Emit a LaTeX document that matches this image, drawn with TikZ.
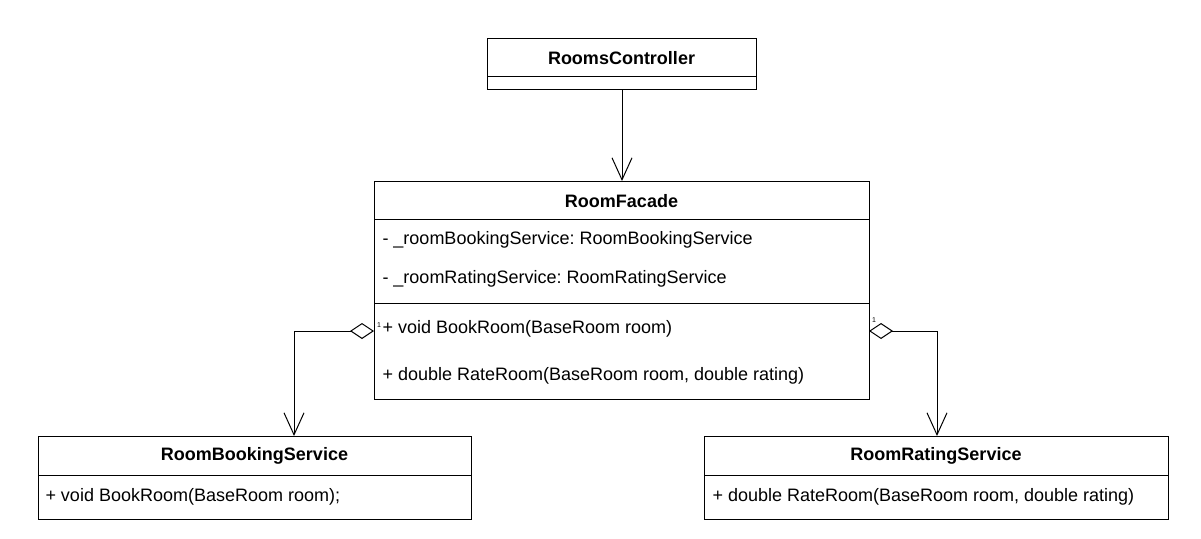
\documentclass[tikz,border=0pt]{standalone}
\usepackage{fontspec}
\setmainfont{Liberation Sans}
\usetikzlibrary{arrows.meta}
\frenchspacing
\begin{document}
\begin{tikzpicture}[x=1pt, y=-1pt, line width=1pt,
   font=\fontsize{18}{21}\selectfont,
   classbox/.style={draw, inner sep=0pt, anchor=north west},
   title/.style={font=\fontsize{18}{21}\selectfont\bfseries, inner sep=0pt},
   member/.style={anchor=west, inner sep=0pt},
   mult/.style={font=\fontsize{7}{8}\selectfont, inner sep=0pt},
   dep/.style={-{Straight Barb[length=22pt, width=20pt, line width=1pt]}},
   agg/.style={{Diamond[open, length=24pt, width=16pt, line width=1pt]}-{Straight Barb[length=22pt, width=20pt, line width=1pt]}}]
   \useasboundingbox (0,0) rectangle (1201,538);
   \fill[white] (0,0) rectangle (1201,538);
   % controller
   \node[classbox, minimum width=269pt, minimum height=51pt] (ctrl) at (487,38) {};
   \node[title] (ctrlname) at (621.5,58) {RoomsController};
   \draw (487,76) -- (756,76);
   % facade
   \node[classbox, minimum width=495pt, minimum height=218pt] (facade) at (374,181) {};
   \node[title] (facadename) at (621.5,201) {RoomFacade};
   \draw (374,219) -- (869,219);
   \node[member] (fattr1) at (382,240) {- \_roomBookingService: RoomBookingService};
   \node[member] (fattr2) at (382,279) {- \_roomRatingService: RoomRatingService};
   \draw (374,303) -- (869,303);
   \node[member] (fop1) at (382,329) {+ void BookRoom(BaseRoom room)};
   \node[member] (fop2) at (382,376) {+ double RateRoom(BaseRoom room, double rating)};
   % services
   \node[classbox, minimum width=433pt, minimum height=83pt] (booking) at (38,436) {};
   \node[title] (bookingname) at (254.5,456) {RoomBookingService};
   \draw (38,475) -- (471,475);
   \node[member] (bop1) at (45,497) {+ void BookRoom(BaseRoom room);};
   \node[classbox, minimum width=464pt, minimum height=83pt] (rating) at (704,436) {};
   \node[title] (ratingname) at (936,456) {RoomRatingService};
   \draw (704,475) -- (1168,475);
   \node[member] (rop1) at (712,497) {+ double RateRoom(BaseRoom room, double rating)};
   % connectors
   \coordinate (aggl) at (374,331);
   \coordinate (aggr) at (869,331);
   \draw[dep] (ctrl.south) -- (facade.north);
   \draw[agg] (aggl) -| (booking.north -| 294,0);
   \draw[agg] (aggr) -| (rating.north -| 937,0);
   \node[mult] (multl) at (379,325) {1};
   \node[mult] (multr) at (874,320) {1};
\end{tikzpicture}
\end{document}
